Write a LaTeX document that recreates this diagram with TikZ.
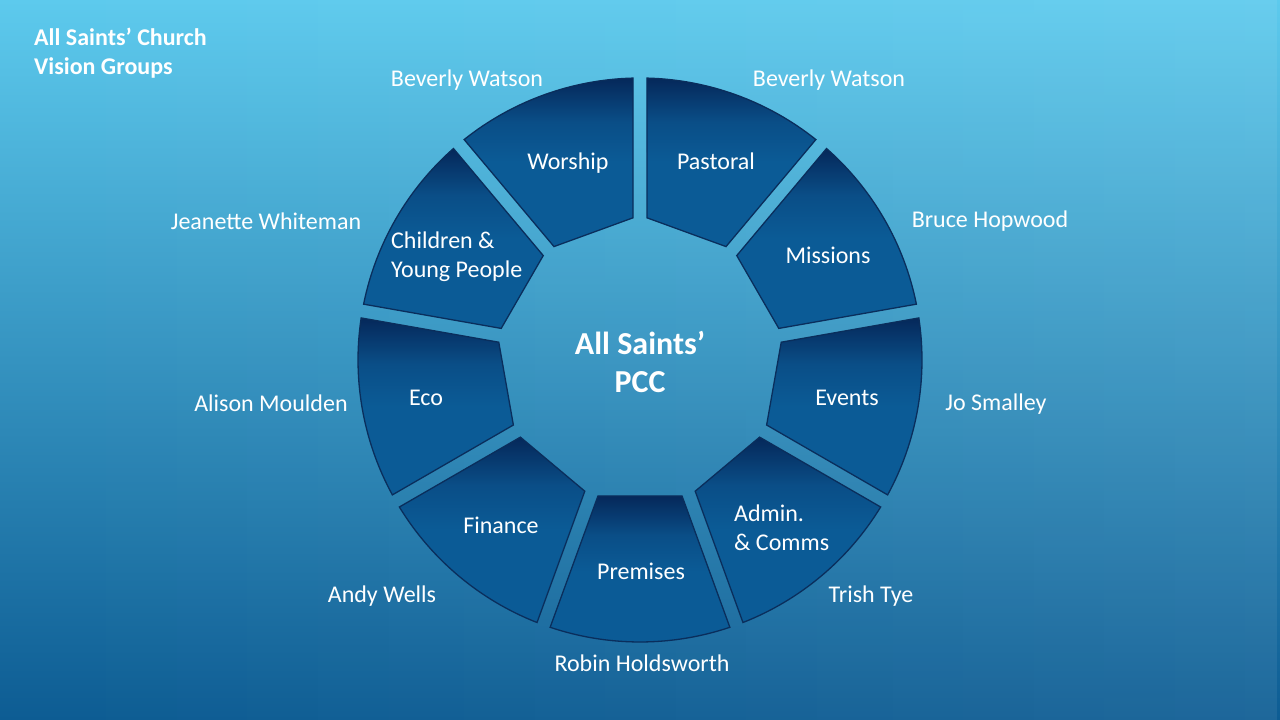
\documentclass[tikz,border=0pt]{standalone}
\usepackage{fontspec}
\setmainfont{Carlito}
\usetikzlibrary{fadings}
\definecolor{bgtop}{HTML}{5DCAED}
\definecolor{bgmid}{HTML}{2F8ABD}
\definecolor{bgbot}{HTML}{0D5C93}
\definecolor{segdark}{HTML}{05285A}
\definecolor{segmid}{HTML}{0A4E87}
\definecolor{seglight}{HTML}{0B5B96}
\definecolor{segedge}{HTML}{0A2E5C}
\pgfdeclareverticalshading{segshade}{100bp}{color(0bp)=(seglight); color(25bp)=(seglight); color(50bp)=(seglight); color(62bp)=(segmid); color(75bp)=(segdark); color(100bp)=(segdark)}
\pgfdeclarehorizontalshading{fadeshade}{100bp}{color(0bp)=(black); color(25bp)=(black); color(75bp)=(white); color(100bp)=(white)}
\pgfdeclarefading{rightfade}{\pgfuseshading{fadeshade}}
\tikzset{
  segpart/.style={shading=segshade, draw=segedge, line width=1.3pt},
  namelbl/.style={text=white, inner sep=0pt, font=\fontsize{24}{29}\selectfont},
  seglbl/.style={text=white, inner sep=0pt, font=\fontsize{24}{29}\selectfont},
  boldlbl/.style={text=white, inner sep=0pt, font=\bfseries\fontsize{24}{29}\selectfont},
}
\begin{document}
\begin{tikzpicture}[x=1pt,y=1pt]
\useasboundingbox (0,0) rectangle (1280,720);
% background
\shade[top color=bgtop, middle color=bgmid, bottom color=bgbot] (0,0) rectangle (1280,720);
\fill[white, path fading=rightfade, fill opacity=0.07] (0,0) rectangle (1280,720);
% ring segments
\begin{scope}[shift={(640,360)}]
\foreach \t in {110,70,30,-10,-50,-90,-130,-170,150}{
  \shadedraw[segpart] (\t+18.58:282) arc[start angle=\t+18.58, end angle=\t-18.58, radius=282]
    -- (\t-17.18:142.35) -- (\t+17.18:142.35) -- cycle;
}
\end{scope}
% title
\node[boldlbl, anchor=west, align=left] (title) at (34,666.5) {All Saints’ Church\\Vision Groups};
% centre
\node[boldlbl, font=\bfseries\fontsize{32}{38}\selectfont, align=center] (pcc) at (640,358) {All Saints’\\PCC};
% segment labels
\node[seglbl] (worship) at (568,557) {Worship};
\node[seglbl] (pastoral) at (716,559) {Pastoral};
\node[seglbl] (missions) at (828,464.5) {Missions};
\node[seglbl] (events) at (847,322) {Events};
\node[seglbl, anchor=west, align=left] (admin) at (734,192.5) {Admin.\\\& Comms};
\node[seglbl] (premises) at (641,149) {Premises};
\node[seglbl] (finance) at (501,195) {Finance};
\node[seglbl] (eco) at (426,322) {Eco};
\node[seglbl, anchor=west, align=left] (children) at (391,463.5) {Children \&\\Young People};
% names
\node[namelbl] (n1) at (467,640) {Beverly Watson};
\node[namelbl] (n2) at (829,640) {Beverly Watson};
\node[namelbl] (n3) at (990,499) {Bruce Hopwood};
\node[namelbl] (n4) at (996,316) {Jo Smalley};
\node[namelbl] (n5) at (871,124) {Trish Tye};
\node[namelbl] (n6) at (642,57) {Robin Holdsworth};
\node[namelbl] (n7) at (382,124) {Andy Wells};
\node[namelbl] (n8) at (271,317) {Alison Moulden};
\node[namelbl] (n9) at (266,499) {Jeanette Whiteman};
\end{tikzpicture}
\end{document}
